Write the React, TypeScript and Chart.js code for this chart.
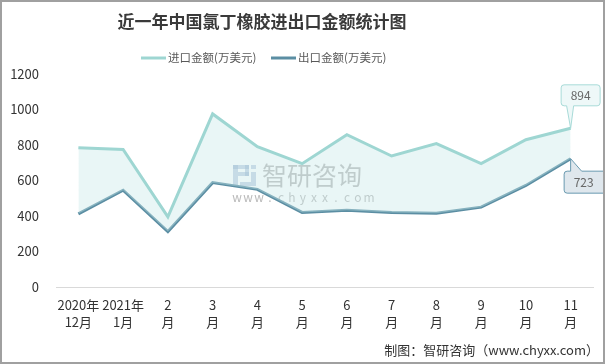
import React, { useEffect, useRef } from "react";
import { Chart, registerables } from "chart.js";

Chart.register(...registerables);

const categoriesTop = ["2020年", "2021年", "2", "3", "4", "5", "6", "7", "8", "9", "10", "11"];
const categoriesBottom = ["12月", "1月", "月", "月", "月", "月", "月", "月", "月", "月", "月", "月"];
const importValues = [785, 775, 395, 975, 790, 695, 858, 738, 808, 695, 830, 894];
const exportValues = [412, 545, 312, 588, 550, 420, 432, 420, 415, 450, 572, 723];
const yTicks = [0, 200, 400, 600, 800, 1000, 1200];
const seriesNames = ["进口金额(万美元)", "出口金额(万美元)"];
const titleText = "近一年中国氯丁橡胶进出口金额统计图";
const creditText = "制图：智研咨询（www.chyxx.com）";

const IMPORT_COLOR = "#9ed6d2";
const EXPORT_COLOR = "#5b8ea3";
const FONT = '"Microsoft YaHei", "Noto Sans CJK SC", sans-serif';

function callout(
  ctx: CanvasRenderingContext2D,
  bx: number, by: number, bw: number, bh: number,
  tipX: number, tipY: number, b1: number, b2: number, side: "top" | "bottom",
  fill: string, stroke: string, text: string
) {
  const r = 3;
  ctx.save();
  ctx.beginPath();
  if (side === "bottom") {
    ctx.moveTo(bx + r, by);
    ctx.lineTo(bx + bw - r, by);
    ctx.arcTo(bx + bw, by, bx + bw, by + r, r);
    ctx.lineTo(bx + bw, by + bh - r);
    ctx.arcTo(bx + bw, by + bh, bx + bw - r, by + bh, r);
    ctx.lineTo(b2, by + bh);
    ctx.lineTo(tipX, tipY);
    ctx.lineTo(b1, by + bh);
    ctx.lineTo(bx + r, by + bh);
    ctx.arcTo(bx, by + bh, bx, by + bh - r, r);
    ctx.lineTo(bx, by + r);
    ctx.arcTo(bx, by, bx + r, by, r);
  } else {
    ctx.moveTo(bx + r, by);
    ctx.lineTo(b1, by);
    ctx.lineTo(tipX, tipY);
    ctx.lineTo(b2, by);
    ctx.lineTo(bx + bw - r, by);
    ctx.arcTo(bx + bw, by, bx + bw, by + r, r);
    ctx.lineTo(bx + bw, by + bh - r);
    ctx.arcTo(bx + bw, by + bh, bx + bw - r, by + bh, r);
    ctx.lineTo(bx + r, by + bh);
    ctx.arcTo(bx, by + bh, bx, by + bh - r, r);
    ctx.lineTo(bx, by + r);
    ctx.arcTo(bx, by, bx + r, by, r);
  }
  ctx.closePath();
  ctx.fillStyle = fill;
  ctx.fill();
  ctx.lineWidth = 1;
  ctx.strokeStyle = stroke;
  ctx.stroke();
  ctx.fillStyle = "#666666";
  ctx.font = `12px ${FONT}`;
  ctx.textAlign = "center";
  ctx.textBaseline = "middle";
  ctx.fillText(text, bx + 19.5, by + bh / 2 + 0.5);
  ctx.restore();
}

const decorPlugin = {
  id: "decor",
  beforeDraw(chart: any) {
    const ctx = chart.ctx as CanvasRenderingContext2D;
    ctx.save();
    ctx.fillStyle = "#ffffff";
    ctx.fillRect(0, 0, chart.width, chart.height);
    ctx.restore();
  },
  beforeDatasetsDraw(chart: any) {
    const ctx = chart.ctx as CanvasRenderingContext2D;
    ctx.save();
    // watermark logo
    ctx.fillStyle = "rgba(150,175,205,0.55)";
    ctx.fillRect(233, 165, 5, 21);
    ctx.fillRect(233, 165, 16, 4);
    ctx.fillRect(245, 165, 4, 11);
    ctx.fillRect(238, 172, 11, 4);
    ctx.fillRect(251, 165, 5, 4);
    ctx.fillRect(251, 172, 5, 14);
    ctx.fillRect(240, 182, 11, 4);
    ctx.fillStyle = "rgba(140,140,140,0.6)";
    ctx.font = `25px ${FONT}`;
    ctx.textAlign = "left";
    ctx.textBaseline = "middle";
    ctx.fillText("智研咨询", 262, 175);
    ctx.font = `12px ${FONT}`;
    ctx.textAlign = "center";
    const s = "www.chyxx.com";
    for (let i = 0; i < s.length; i++) {
      ctx.fillText(s[i], 237 + i * 11, 197);
    }
    ctx.restore();
  },
  afterDraw(chart: any) {
    const ctx = chart.ctx as CanvasRenderingContext2D;
    ctx.save();
    // title
    ctx.fillStyle = "#3a3a3a";
    ctx.font = `bold 17px "Noto Sans CJK SC", sans-serif`;
    ctx.textAlign = "center";
    ctx.textBaseline = "middle";
    ctx.fillText(titleText, 262, 22);
    // legend
    const legendItems = [
      { x: 141, color: IMPORT_COLOR, text: seriesNames[0] },
      { x: 271, color: EXPORT_COLOR, text: seriesNames[1] },
    ];
    ctx.font = `11.5px ${FONT}`;
    ctx.textAlign = "left";
    for (const it of legendItems) {
      ctx.strokeStyle = it.color;
      ctx.lineWidth = 3;
      ctx.beginPath();
      ctx.moveTo(it.x, 58);
      ctx.lineTo(it.x + 25, 58);
      ctx.stroke();
      ctx.fillStyle = "#595959";
      ctx.fillText(it.text, it.x + 27, 58);
    }
    // callouts
    const mi = chart.getDatasetMeta(0).data;
    const me = chart.getDatasetMeta(1).data;
    const pi = mi[mi.length - 1];
    const pe = me[me.length - 1];
    callout(ctx, pi.x - 9.5, pi.y - 43.5, 39, 21, pi.x, pi.y, pi.x - 4, pi.x + 3, "bottom",
      "#eef8f8", "#a8dbd8", String(importValues[importValues.length - 1]));
    callout(ctx, pe.x - 6.5, pe.y + 12.5, 42, 22, pe.x, pe.y, pe.x, pe.x + 11, "top",
      "#dfe7ed", "#6a9ab0", String(exportValues[exportValues.length - 1]));
    // credit
    ctx.fillStyle = "#333333";
    ctx.font = `13px ${FONT}`;
    ctx.textAlign = "right";
    ctx.textBaseline = "middle";
    ctx.fillText(creditText, 599, 350);
    // border
    ctx.strokeStyle = "#a0a0a0";
    ctx.lineWidth = 2;
    ctx.strokeRect(1, 1, chart.width - 2, chart.height - 2);
    ctx.restore();
  },
};

export default function App() {
  const ref = useRef<HTMLCanvasElement | null>(null);
  useEffect(() => {
    if (!ref.current) return;
    const labels = categoriesTop.map((t, i) => [t, categoriesBottom[i]]);
    const chart = new Chart(ref.current, {
      type: "line",
      data: {
        labels,
        datasets: [
          {
            label: seriesNames[0],
            data: importValues,
            borderColor: IMPORT_COLOR,
            backgroundColor: "rgba(200,232,232,0.4)",
            borderWidth: 3,
            pointRadius: 0,
            tension: 0,
            fill: "+1",
          },
          {
            label: seriesNames[1],
            data: exportValues,
            borderColor: EXPORT_COLOR,
            backgroundColor: EXPORT_COLOR,
            borderWidth: 3,
            pointRadius: 0,
            tension: 0,
            fill: false,
          },
        ],
      },
      options: {
        responsive: false,
        animation: false,
        events: [],
        layout: { padding: { top: 74, right: 12, left: 0, bottom: 0 } },
        plugins: {
          legend: { display: false },
          title: { display: false },
          tooltip: { enabled: false },
        },
        scales: {
          x: {
            offset: true,
            grid: { display: false, drawTicks: false },
            border: { display: true, color: "#d9d9d9", width: 1 },
            ticks: {
              color: "#333333",
              font: { family: FONT, size: 13, lineHeight: 1.3 },
              padding: 10,
              maxRotation: 0,
              autoSkip: false,
            },
            afterFit: (s: any) => {
              s.height = 77;
            },
          },
          y: {
            min: 0,
            max: 1200,
            afterBuildTicks: (s: any) => {
              s.ticks = yTicks.map((v) => ({ value: v }));
            },
            grid: { display: false, drawTicks: false },
            border: { display: false },
            ticks: {
              color: "#333333",
              font: { family: FONT, size: 13 },
              padding: 17,
              callback: (v: any) => String(v),
            },
            afterFit: (s: any) => {
              s.width = 56;
            },
          },
        },
      },
      plugins: [decorPlugin],
    });
    return () => chart.destroy();
  }, []);
  return (
    <div style={{ position: "fixed", left: 0, top: 0, width: 605, height: 364 }}>
      <canvas ref={ref} width={605} height={364} style={{ display: "block" }} />
    </div>
  );
}
